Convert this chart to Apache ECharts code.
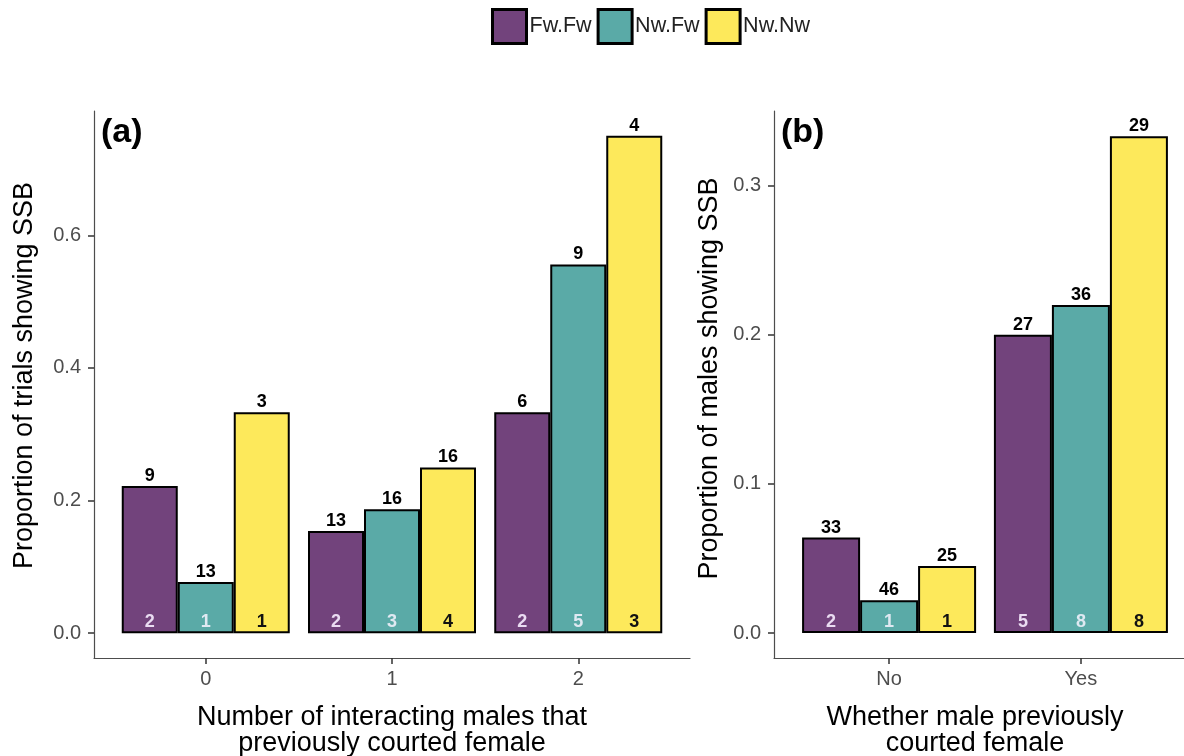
<!DOCTYPE html>
<html>
<head>
<meta charset="utf-8">
<script src="https://cdn.jsdelivr.net/npm/echarts@6/dist/echarts.min.js"></script>
<style>
  html, body { margin: 0; padding: 0; background: #fff; }
  #main { width: 1184px; height: 756px; }
</style>
</head>
<body>
<div id="main"></div>
<script>
// groups and series names
const seriesNames = ['Fw.Fw', 'Nw.Fw', 'Nw.Nw'];
const colors = ['#72437c', '#5aaaa7', '#fde95b'];
const countColors = ['#eadcf2', '#dfe9f2', '#111111'];

// panel (a): proportion of trials showing SSB
const groupsA = ['0', '1', '2'];
const fwfwA = [0.222, 0.154, 0.333];
const nwfwA = [0.077, 0.187, 0.556];
const nwnwA = [0.333, 0.25, 0.75];
// sample sizes (above bars) and counts (inside bars)
const nFwfwA = [9, 13, 6];
const nNwfwA = [13, 16, 9];
const nNwnwA = [3, 16, 4];
const kFwfwA = [2, 2, 2];
const kNwfwA = [1, 3, 5];
const kNwnwA = [1, 4, 3];

// panel (b): proportion of males showing SSB
const groupsB = ['No', 'Yes'];
const fwfwB = [0.064, 0.2];
const nwfwB = [0.022, 0.22];
const nwnwB = [0.045, 0.333];
const nFwfwB = [33, 27];
const nNwfwB = [46, 36];
const nNwnwB = [25, 29];
const kFwfwB = [2, 5];
const kNwfwB = [1, 8];
const kNwnwB = [1, 8];

const ticksA = [0, 0.2, 0.4, 0.6];
const ticksB = [0, 0.1, 0.2, 0.3];

const font = 'Liberation Sans, Arial, sans-serif';
const axisColor = '#4d4d4d';

function toPairs(vals) {
  return vals.map((v, i) => [i, v]);
}

// main bars with sample size on top
function barSeries(name, vals, nArr, k, xIdx, yIdx, width) {
  return {
    name: name,
    type: 'bar',
    xAxisIndex: xIdx,
    yAxisIndex: yIdx,
    barWidth: width,
    barGap: '0%',
    data: toPairs(vals),
    itemStyle: { color: colors[k], borderColor: '#000', borderWidth: 2 },
    label: {
      show: true,
      position: 'top',
      distance: 1,
      fontFamily: font,
      fontWeight: 'bold',
      fontSize: 18,
      color: '#000',
      formatter: p => nArr[p.dataIndex]
    },
    emphasis: { disabled: true }
  };
}

// invisible overlay bars carrying the counts at the bottom
function countSeries(name, vals, kArr, k, xIdx, yIdx, width) {
  return {
    name: name + ' n',
    type: 'bar',
    xAxisIndex: xIdx,
    yAxisIndex: yIdx,
    barWidth: width,
    barGap: '0%',
    z: 5,
    data: toPairs(vals),
    itemStyle: { color: 'rgba(0,0,0,0)' },
    label: {
      show: true,
      position: 'insideBottom',
      distance: 2,
      fontFamily: font,
      fontWeight: 'bold',
      fontSize: 18,
      color: countColors[k],
      formatter: p => kArr[p.dataIndex]
    },
    emphasis: { disabled: true }
  };
}

function xAxisCfg(groups, max, gridIndex, show, name, pad) {
  return {
    type: 'value',
    gridIndex: gridIndex,
    min: -0.6,
    max: max,
    show: show,
    name: name,
    nameLocation: 'middle',
    nameGap: 47,
    nameTextStyle: { fontFamily: font, fontSize: 27, color: '#000', lineHeight: 26, padding: pad },
    splitLine: { show: false },
    axisLine: { show: true, onZero: false, lineStyle: { color: axisColor, width: 1.2 } },
    axisTick: { show: true, length: 6, customValues: groups.map((g, i) => i), lineStyle: { color: '#333', width: 1.5 } },
    axisLabel: {
      customValues: groups.map((g, i) => i),
      formatter: v => groups[Math.round(v)],
      fontFamily: font, fontSize: 20, color: axisColor, margin: 11
    }
  };
}

function yAxisCfg(ticks, min, max, gridIndex, name, gap, pad) {
  return {
    type: 'value',
    gridIndex: gridIndex,
    min: min,
    max: max,
    name: name,
    nameLocation: 'middle',
    nameGap: gap,
    nameTextStyle: { fontFamily: font, fontSize: 27, color: '#000', padding: pad },
    splitLine: { show: false },
    axisLine: { show: true, onZero: false, lineStyle: { color: axisColor, width: 1.2 } },
    axisTick: { show: true, length: 6, customValues: ticks, lineStyle: { color: '#333', width: 1.5 } },
    axisLabel: {
      customValues: ticks,
      formatter: v => v.toFixed(1),
      fontFamily: font, fontSize: 20, color: axisColor, margin: 13
    }
  };
}

const chart = echarts.init(document.getElementById('main'), null, { renderer: 'canvas' });

const option = {
  backgroundColor: '#fff',
  animation: false,
  title: [
    { text: '(a)', left: 96, top: 111, textStyle: { fontFamily: font, fontSize: 34, fontWeight: 'bold', color: '#000' } },
    { text: '(b)', left: 776, top: 111, textStyle: { fontFamily: font, fontSize: 34, fontWeight: 'bold', color: '#000' } }
  ],
  legend: {
    data: seriesNames,
    left: 491,
    top: 8,
    padding: 0,
    icon: 'rect',
    itemWidth: 34,
    itemHeight: 34,
    itemGap: 5,
    itemStyle: { borderColor: '#000', borderWidth: 3 },
    textStyle: { fontFamily: font, fontSize: 21.5, color: '#222', padding: [0, 0, 0, -2] }
  },
  grid: [
    { left: 94, top: 111, width: 596, height: 547, outerBoundsMode: 'none' },
    { left: 774, top: 111, width: 422, height: 547, outerBoundsMode: 'none' }
  ],
  xAxis: [
    xAxisCfg(groupsA, 2.6, 0, true, 'Number of interacting males that\npreviously courted female', [0, 0, 0, 0]),
    xAxisCfg(groupsB, 1.6, 1, true, 'Whether male previously\ncourted female', [0, 20, 0, 0]),
    xAxisCfg(groupsA, 2.6, 0, false, '', 0),
    xAxisCfg(groupsB, 1.6, 1, false, '', 0)
  ],
  yAxis: [
    yAxisCfg(ticksA, -0.0375, 0.7875, 0, 'Proportion of trials showing SSB', 56, [0, 0, 0, 18]),
    yAxisCfg(ticksB, -0.0167, 0.35, 1, 'Proportion of males showing SSB', 51, [0, 0, 0, 12])
  ],
  series: [
    barSeries('Fw.Fw', fwfwA, nFwfwA, 0, 0, 0, 56),
    barSeries('Nw.Fw', nwfwA, nNwfwA, 1, 0, 0, 56),
    barSeries('Nw.Nw', nwnwA, nNwnwA, 2, 0, 0, 56),
    barSeries('Fw.Fw', fwfwB, nFwfwB, 0, 1, 1, 58),
    barSeries('Nw.Fw', nwfwB, nNwfwB, 1, 1, 1, 58),
    barSeries('Nw.Nw', nwnwB, nNwnwB, 2, 1, 1, 58),
    countSeries('Fw.Fw', fwfwA, kFwfwA, 0, 2, 0, 56),
    countSeries('Nw.Fw', nwfwA, kNwfwA, 1, 2, 0, 56),
    countSeries('Nw.Nw', nwnwA, kNwnwA, 2, 2, 0, 56),
    countSeries('Fw.Fw', fwfwB, kFwfwB, 0, 3, 1, 58),
    countSeries('Nw.Fw', nwfwB, kNwfwB, 1, 3, 1, 58),
    countSeries('Nw.Nw', nwnwB, kNwnwB, 2, 3, 1, 58)
  ]
};

chart.setOption(option);
</script>
</body>
</html>
